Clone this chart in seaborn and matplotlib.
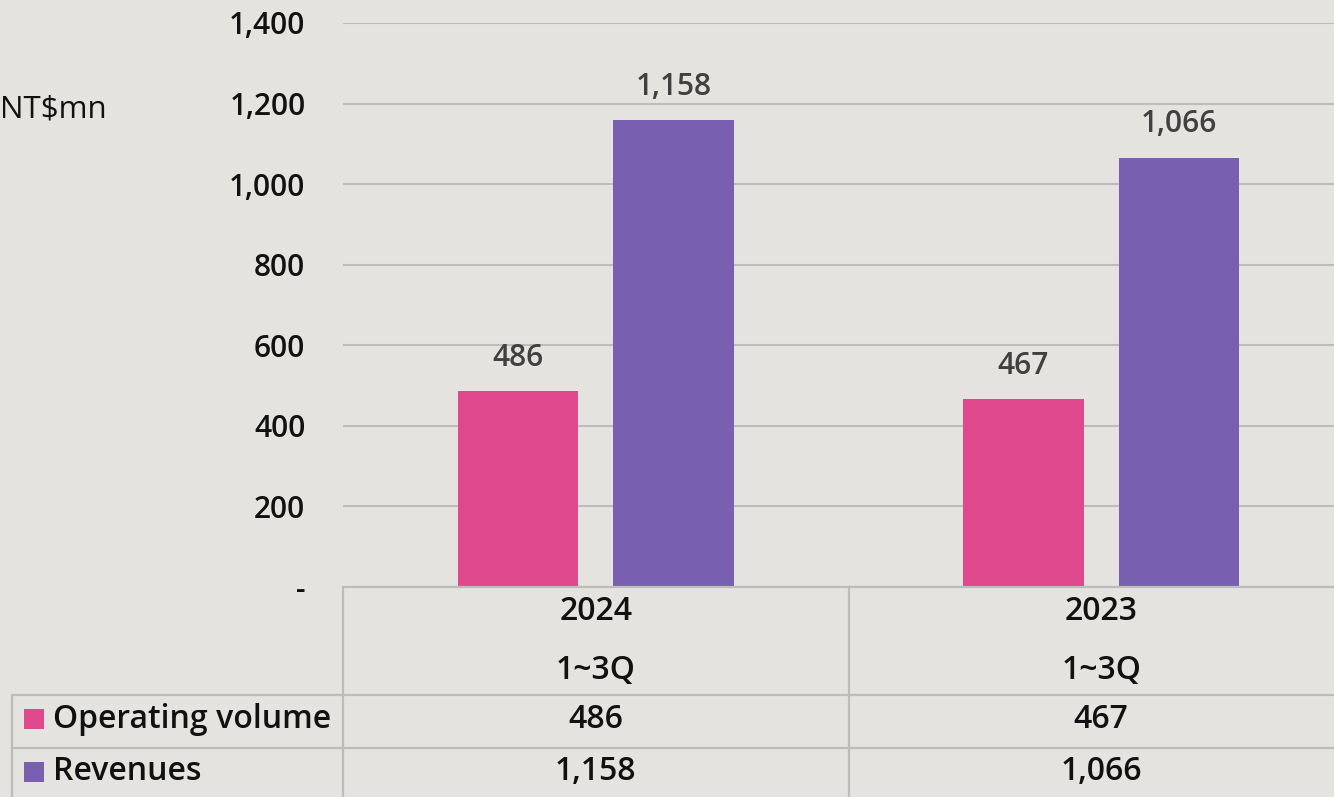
import matplotlib
matplotlib.use("Agg")
import matplotlib.pyplot as plt
import matplotlib.transforms as mtransforms
from matplotlib.lines import Line2D
from matplotlib.patches import Rectangle
import seaborn as sns
import pandas as pd

# ---- data ----
years = ["2024", "2023"]
periods = ["1~3Q", "1~3Q"]
series_names = ["Operating volume", "Revenues"]
operating_volume = [486, 467]
revenues = [1158, 1066]
y_ticks = [0, 200, 400, 600, 800, 1000, 1200, 1400]
y_tick_labels = ["-", "200", "400", "600", "800", "1,000", "1,200", "1,400"]
unit_label = "NT$mn"

colors = ["#E0488E", "#785FB0"]
bg = "#E5E3DF"
grid_c = "#BDBCBA"

df = pd.DataFrame({
    "year": years * 2,
    "series": [series_names[0]] * 2 + [series_names[1]] * 2,
    "value": operating_volume + revenues,
})

sns.set_theme(style="white")
plt.rcParams["font.family"] = ["Open Sans", "DejaVu Sans"]

W, H = 1334, 797
fig = plt.figure(figsize=(W / 100, H / 100), dpi=100, facecolor=bg)

def fx(px):
    return px / W

def fy(py):
    return 1 - py / H

ax_left, ax_right, ax_top, ax_bot = 343, 1334, 23, 587
ax = fig.add_axes([fx(ax_left), fy(ax_bot), fx(ax_right - ax_left), (ax_bot - ax_top) / H])
ax.set_facecolor(bg)

sns.barplot(data=df, x="year", y="value", hue="series", order=years,
            hue_order=series_names, palette=colors, width=0.616, gap=0.227,
            legend=False, ax=ax, saturation=1, edgecolor="none")

for cont in ax.containers:
    ax.bar_label(cont, labels=[f"{v:,.0f}" for v in cont.datavalues],
                 padding=13, fontsize=21.5, color="#404040", fontweight="semibold")

ax.set_ylim(0, 1400)
ax.set_xlim(-0.5, 1.5 - 20 / 505)
ax.set_yticks(y_ticks)
ax.set_yticklabels(y_tick_labels, fontsize=21.5, color="#111111", fontweight="semibold")
ax.tick_params(axis="y", length=0, pad=27)
ax.tick_params(axis="x", length=0, labelbottom=False)
ax.set_xlabel("")
ax.set_ylabel("")
for s in ax.spines.values():
    s.set_visible(False)
ax.yaxis.grid(True, color=grid_c, linewidth=1.5)
ax.set_axisbelow(True)

fig.text(fx(107), fy(110), unit_label, ha="right", va="center", fontsize=22.5, color="#111111")

# ---- data table ----
lw = 1.6
def hline(x0, x1, y):
    fig.add_artist(Line2D([fx(x0), fx(x1)], [fy(y), fy(y)], color=grid_c, lw=lw))

def vline(x, y0, y1):
    fig.add_artist(Line2D([fx(x), fx(x)], [fy(y0), fy(y1)], color=grid_c, lw=lw))

hline(343, 1334, 587)
hline(12, 1334, 695)
hline(12, 1334, 748)
vline(343, 587, 797)
vline(849, 587, 797)
vline(12, 695, 797)

tr = mtransforms.blended_transform_factory(ax.transData, fig.transFigure)
tkw = dict(ha="center", va="center", fontsize=23, color="#111111", fontweight="semibold", transform=tr)
for i, (yr, pr) in enumerate(zip(years, periods)):
    ax.text(i, fy(611), yr, **tkw)
    ax.text(i, fy(670), pr, **tkw)
    ax.text(i, fy(719), f"{operating_volume[i]:,}", **tkw)
    ax.text(i, fy(772), f"{revenues[i]:,}", **tkw)

row_y = [719, 772]
for name, c, y in zip(series_names, colors, row_y):
    fig.add_artist(Rectangle((fx(24), fy(y + 10)), fx(20), 20 / H, facecolor=c,
                             edgecolor="none", transform=fig.transFigure))
    fig.text(fx(53), fy(y), name, ha="left", va="center", fontsize=23,
             color="#111111", fontweight="semibold")

fig.savefig("out.png", dpi=100, facecolor=bg)
